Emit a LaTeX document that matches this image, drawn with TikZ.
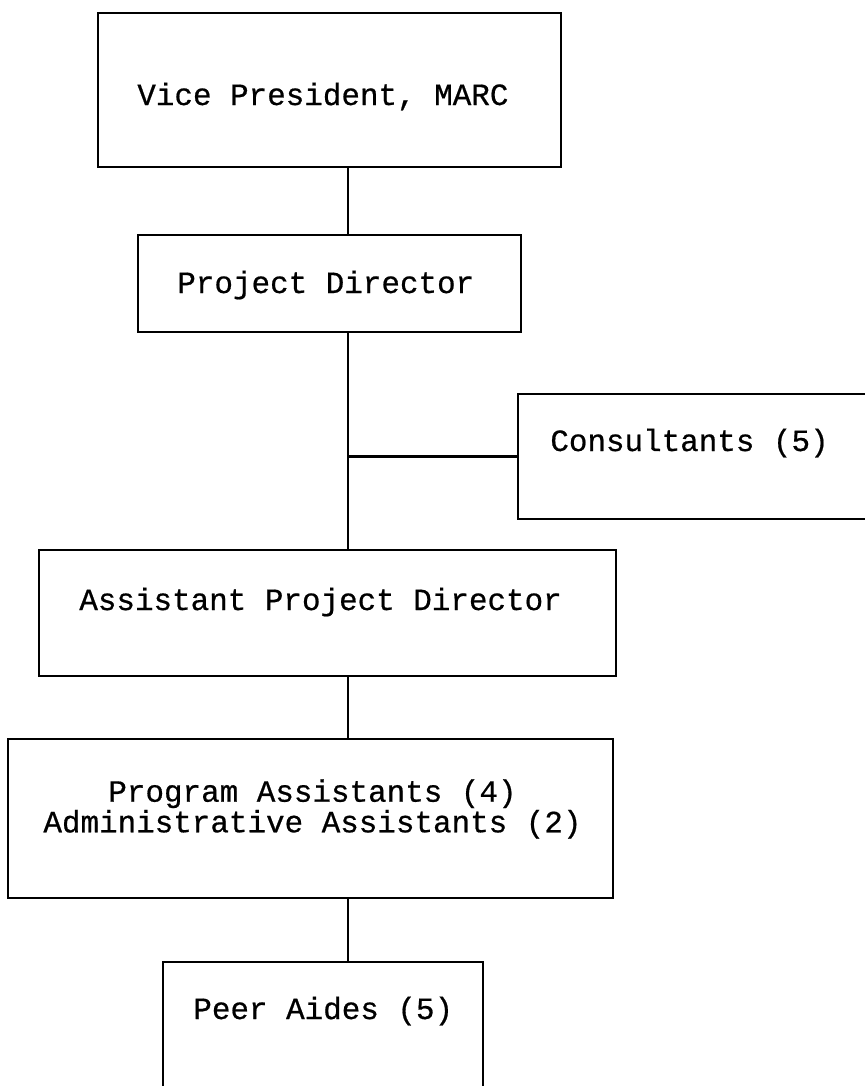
\documentclass[tikz,border=0pt]{standalone}
\usepackage{fontspec}
\setmonofont{Liberation Mono}[FakeBold=0.6]
\begin{document}
\begin{tikzpicture}[x=0.02cm, y=-0.02cm,
        chartbox/.style={draw, line width=1.5pt, inner sep=0pt},
        chartlabel/.style={anchor=base west, inner sep=0pt, font=\ttfamily\fontsize{17.6}{15.4}\selectfont},
        link/.style={line width=1.3pt}]
        \path[use as bounding box, fill=white] (0, 0) rectangle (865, 1086);

        % boxes: name / centre x / centre y / width / height
        \foreach \n/\x/\y/\w/\h in {vp/329.5/90/9.26/3.08, pd/329.5/283.5/7.66/1.94,
                cons/709/456.5/7.64/2.5, apd/327.5/613/11.54/2.52,
                pa/310.5/818.5/12.1/3.18, peer/323/1041/6.4/3.16}
        {
            \node[chartbox, minimum width=\w cm, minimum height=\h cm] (\n) at (\x, \y) {};
        }

        % texts, set at their baselines
        \foreach \n/\x/\y/\t in {vplabel/137/105/{Vice President, MARC}, pdlabel/177/293/{Project Director},
                conslabel/550/451/{Consultants (5)}, apdlabel/79/610/{Assistant Project Director},
                peerlabel/193/1019/{Peer Aides (5)}}
        {
            \node[chartlabel] (\n) at (\x, \y) {\t};
        }
        \node[chartlabel, anchor=center, align=center] (palabel) at (312.5, 809)
            {Program Assistants (4)\\Administrative Assistants (2)};

        \coordinate (spine) at (348, 0);
        \draw[link] (vp.south -| spine) -- (pd.north -| spine);
        \draw[link] (pd.south -| spine) -- (apd.north -| spine);
        \draw[link] (cons.west -| spine) -- (cons.west);
        \draw[link] (apd.south -| spine) -- (pa.north -| spine);
        \draw[link] (pa.south -| spine) -- (peer.north -| spine);
    \end{tikzpicture}
\end{document}
